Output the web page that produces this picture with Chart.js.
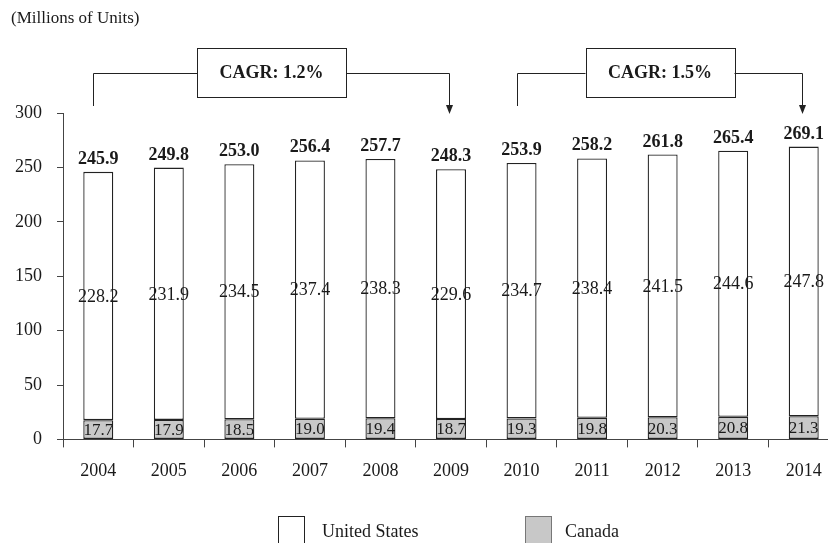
<!DOCTYPE html>
<html>
<head>
<meta charset="utf-8">
<script src="https://cdn.jsdelivr.net/npm/chart.js@4"></script>
<style>
  html, body { margin: 0; padding: 0; background: #fff; overflow: hidden; }
  #wrap { width: 840px; height: 543px; }
</style>
</head>
<body>
<div id="wrap"><canvas id="chart" width="840" height="543"></canvas></div>
<script>
const years = ['2004', '2005', '2006', '2007', '2008', '2009', '2010', '2011', '2012', '2013', '2014'];
const usValues = [228.2, 231.9, 234.5, 237.4, 238.3, 229.6, 234.7, 238.4, 241.5, 244.6, 247.8];
const canadaValues = [17.7, 17.9, 18.5, 19.0, 19.4, 18.7, 19.3, 19.8, 20.3, 20.8, 21.3];
const totals = [245.9, 249.8, 253.0, 256.4, 257.7, 248.3, 253.9, 258.2, 261.8, 265.4, 269.1];
const yTicks = [0, 50, 100, 150, 200, 250, 300];
const cagrNotes = [
  { from: 0, to: 5, text: 'CAGR: 1.2%' },
  { from: 6, to: 10, text: 'CAGR: 1.5%' }
];

const FONT = '"Liberation Serif", "Times New Roman", serif';
const INK = '#1a1a1a';

// value labels, totals, CAGR brackets and legend
const annotate = {
  id: 'annotate',
  afterDatasetsDraw(chart) {
    const ctx = chart.ctx;
    const x = chart.scales.x;
    const y = chart.scales.y;
    const caMeta = chart.getDatasetMeta(0);
    const usMeta = chart.getDatasetMeta(1);
    ctx.save();
    ctx.fillStyle = INK;
    ctx.textAlign = 'center';
    ctx.textBaseline = 'middle';

    ctx.font = '17px ' + FONT;
    caMeta.data.forEach((bar, i) => {
      ctx.fillText(canadaValues[i].toFixed(1), bar.x, (bar.y + bar.base) / 2 + 1);
    });
    ctx.font = '18px ' + FONT;
    usMeta.data.forEach((bar, i) => {
      ctx.fillText(usValues[i].toFixed(1), bar.x, (bar.y + bar.base) / 2 + 1);
    });

    ctx.font = 'bold 18px ' + FONT;
    ctx.textBaseline = 'alphabetic';
    usMeta.data.forEach((bar, i) => {
      ctx.fillText(totals[i].toFixed(1), bar.x, bar.y - 8);
    });

    // CAGR brackets
    const lineY = 73;
    const tipY = y.getPixelForValue(300) + 1;
    ctx.strokeStyle = '#222';
    ctx.lineWidth = 1;
    cagrNotes.forEach(note => {
      const x1 = Math.round(x.getPixelForValue(note.from) - 5) + 0.5;
      const x2 = Math.round(x.getPixelForValue(note.to) - 2) + 0.5;
      const mid = (x1 + x2) / 2;
      const bw = 149, top = 48, bottom = 97;
      ctx.beginPath();
      ctx.moveTo(x1, 106);
      ctx.lineTo(x1, lineY + 0.5);
      ctx.lineTo(mid - bw / 2, lineY + 0.5);
      ctx.moveTo(mid + bw / 2, lineY + 0.5);
      ctx.lineTo(x2, lineY + 0.5);
      ctx.lineTo(x2, tipY - 8);
      ctx.stroke();
      ctx.beginPath();
      ctx.moveTo(x2 - 3.5, tipY - 9);
      ctx.lineTo(x2 + 3.5, tipY - 9);
      ctx.lineTo(x2, tipY);
      ctx.closePath();
      ctx.fillStyle = '#222';
      ctx.fill();
      ctx.strokeRect(Math.round(mid - bw / 2) + 0.5, top + 0.5, bw, bottom - top);
      ctx.fillStyle = INK;
      ctx.font = 'bold 18px ' + FONT;
      ctx.textBaseline = 'middle';
      ctx.fillText(note.text, mid, (top + bottom) / 2 + 1);
    });

    // legend
    const items = [
      { ds: chart.data.datasets[1], bx: 278, tx: 322 },
      { ds: chart.data.datasets[0], bx: 525, tx: 565 }
    ];
    ctx.font = '18px ' + FONT;
    ctx.textAlign = 'left';
    ctx.textBaseline = 'middle';
    items.forEach(it => {
      ctx.fillStyle = it.ds.backgroundColor;
      ctx.fillRect(it.bx, 516, 27, 32);
      ctx.strokeStyle = it.ds.legendBorder;
      ctx.lineWidth = 1;
      ctx.strokeRect(it.bx + 0.5, 516.5, 26, 32);
      ctx.fillStyle = INK;
      ctx.fillText(it.ds.label, it.tx, 532);
    });
    ctx.restore();
  }
};

new Chart(document.getElementById('chart'), {
  type: 'bar',
  data: {
    labels: years,
    datasets: [
      {
        label: 'Canada',
        data: canadaValues,
        backgroundColor: '#c8c8c8',
        borderColor: '#222',
        borderWidth: 1.3,
        borderSkipped: false,
        legendBorder: '#777'
      },
      {
        label: 'United States',
        data: usValues,
        backgroundColor: '#ffffff',
        borderColor: '#222',
        borderWidth: 1.3,
        borderSkipped: false,
        legendBorder: '#222'
      }
    ]
  },
  options: {
    responsive: false,
    animation: false,
    layout: { padding: { left: 0, right: 1, top: 113, bottom: 48 } },
    datasets: { bar: { barPercentage: 0.425, categoryPercentage: 1 } },
    scales: {
      x: {
        stacked: true,
        border: { display: true, color: '#444', width: 1 },
        grid: { drawOnChartArea: false, tickLength: 8, color: '#444', offset: true },
        ticks: { color: INK, font: { family: FONT, size: 18 }, padding: 13, maxRotation: 0 }
      },
      y: {
        stacked: true,
        min: 0,
        max: 300,
        afterBuildTicks: axis => { axis.ticks = yTicks.map(v => ({ value: v })); },
        border: { display: true, color: '#444', width: 1 },
        grid: { drawOnChartArea: false, tickLength: 6, color: '#444' },
        ticks: { color: INK, font: { family: FONT, size: 18 }, padding: 15 }
      }
    },
    plugins: {
      legend: { display: false },
      tooltip: { enabled: false },
      title: {
        display: false
      }
    }
  },
  plugins: [annotate, {
    id: 'unitsNote',
    afterDraw(chart) {
      const ctx = chart.ctx;
      ctx.save();
      ctx.fillStyle = INK;
      ctx.font = '17px ' + FONT;
      ctx.textBaseline = 'middle';
      ctx.fillText('(Millions of Units)', 11, 19);
      ctx.restore();
    }
  }]
});
</script>
</body>
</html>
